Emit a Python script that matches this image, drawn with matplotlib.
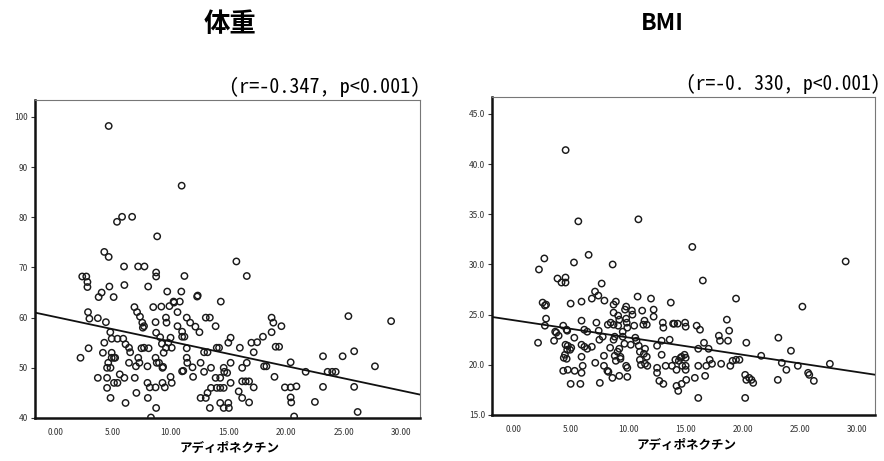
import matplotlib
matplotlib.use("Agg")
import matplotlib.pyplot as plt
import numpy as np

plt.rcParams['font.family'] = ['Noto Sans CJK JP', 'DejaVu Sans']

# ---------------- data ----------------
titles = ["体重", "BMI"]
x_label = "アディポネクチン"
annotations = ["(r=-0.347, p<0.001)", "(r=-0. 330, p<0.001)"]
x_ticks = [0, 5, 10, 15, 20, 25, 30]
y_ticks_weight = [40, 50, 60, 70, 80, 90, 100]
y_ticks_bmi = [15, 20, 25, 30, 35, 40, 45]
fit_weight = [60.15, -0.49]   # intercept, slope
fit_bmi = [24.44, -0.172]

weight_x = [4.64, 10.96, 5.36, 5.8, 6.67, 8.84, 4.26, 4.64, 15.7,
            5.97, 7.19, 7.74, 8.75, 8.75, 11.2, 16.6, 2.35, 2.7, 2.8, 2.8,
            4.7, 6.0, 8.06, 4.03, 3.77, 5.07, 9.71, 10.93, 12.3, 12.35, 14.35,
            10.26, 10.8, 6.87, 7.1, 7.35, 7.55, 7.7, 7.6, 8.5, 9.2, 9.9, 10.3,
            2.85, 2.97, 3.7, 4.4, 8.7, 9.6, 9.65, 10.6, 11.4, 11.7, 12.15,
            12.5, 13.05, 13.4, 13.9, 18.75, 18.9, 19.6, 25.4, 29.1, 10.6,
            11.0, 11.2, 4.78, 4.9, 5.4, 5.9, 4.26, 6.1, 6.4, 6.5, 4.14, 2.9,
            4.9, 5.1, 7.48, 8.1, 8.75, 9.1, 9.25, 9.6, 10.1, 9.8, 10.0, 11.0,
            11.4, 11.4, 11.45, 11.9, 11.95, 12.9, 13.2, 12.6, 13.5, 12.9, 14.0,
            14.2, 15.2, 15.0, 16.0, 17.0, 17.5, 18.0, 17.2, 16.6, 16.2, 18.75,
            19.1, 19.4, 20.4, 21.7, 23.2, 23.6, 24.0, 24.3, 24.9, 25.9, 27.7,
            9.4, 9.0, 9.3, 9.35, 8.0, 7.0, 6.4, 5.6, 5.1, 5.4, 3.7, 4.5, 6.0,
            6.9, 4.8, 6.1, 7.04, 8.03, 8.2, 8.7, 8.75, 8.3, 9.5, 10.1, 4.5,
            11.0, 11.1, 12.6, 13.05, 13.2, 13.5, 13.4, 14.0, 14.3, 14.6, 13.9,
            14.3, 14.6, 14.65, 14.9, 15.2, 14.3, 14.6, 15.0, 15.05, 15.2, 15.9,
            16.2, 16.2, 16.5, 16.8, 17.2, 16.8, 18.1, 18.3, 19.0, 19.9, 20.4,
            20.9, 20.4, 20.45, 20.7, 22.5, 23.2, 25.9, 26.2, 4.9, 5.2, 4.6, 4.5,
            4.8, 2.2, 7.2, 7.3, 7.7, 8.7, 8.8, 10.0, 9.3, 8.0]
weight_y = [98.2, 86.3, 79.1, 80.1, 80.1, 76.2, 73.1, 72.1, 71.2,
            70.2, 70.2, 70.2, 69.0, 68.2, 68.3, 68.3, 68.2, 68.2, 67.1, 66.1,
            66.2, 66.5, 66.2, 65.0, 64.1, 64.1, 65.2, 65.2, 64.2, 64.4, 63.2,
            63.2, 63.2, 62.1, 61.1, 60.2, 59.0, 58.3, 58.0, 62.1, 62.2, 62.3,
            63.0, 61.1, 59.8, 59.9, 59.1, 59.1, 60.0, 59.0, 61.1, 60.0, 59.0,
            58.2, 57.1, 60.0, 60.0, 58.3, 60.0, 59.0, 58.3, 60.3, 59.3, 58.3,
            57.2, 56.2, 57.1, 55.8, 55.8, 55.8, 55.0, 54.7, 54.0, 53.1, 53.0,
            53.9, 53.0, 52.0, 53.9, 53.9, 57.0, 56.1, 54.8, 54.0, 54.0, 55.0,
            56.0, 56.2, 53.9, 52.0, 51.0, 50.1, 48.2, 53.1, 53.1, 51.0, 50.0,
            49.2, 54.0, 54.0, 56.0, 55.0, 54.0, 55.0, 55.1, 56.2, 53.1, 51.0,
            50.0, 57.1, 54.2, 54.2, 51.1, 49.2, 52.3, 49.2, 49.2, 49.2, 52.3,
            53.3, 50.3, 53.0, 51.0, 50.0, 50.2, 50.3, 50.3, 51.0, 48.7, 47.0,
            47.0, 48.0, 48.0, 48.0, 48.0, 44.0, 43.0, 45.0, 44.0, 46.1, 46.1,
            42.0, 40.1, 46.1, 47.0, 46.0, 49.3, 49.4, 44.0, 44.0, 45.0, 46.0,
            42.0, 46.0, 46.0, 46.0, 48.0, 48.0, 50.0, 49.2, 49.0, 51.0, 43.0,
            42.0, 43.0, 42.0, 47.0, 45.3, 44.0, 47.3, 47.3, 47.3, 46.1, 43.1,
            50.3, 50.3, 48.2, 46.1, 46.1, 46.3, 44.1, 43.1, 40.3, 43.2, 46.2,
            46.2, 41.2, 52.0, 52.0, 51.0, 50.0, 50.0, 52.0, 52.0, 51.0, 54.0,
            52.0, 51.0, 48.2, 47.0, 47.0]

bmi_x = [4.51, 5.62, 10.87, 15.58, 2.65, 5.24, 6.52, 8.62, 28.98, 2.18,
         3.8, 4.15, 4.5, 4.5, 7.66, 16.5, 7.08, 7.37, 4.95, 5.9, 6.8, 7.9,
         2.5, 2.8, 2.7, 2.8, 2.7, 2.1, 3.6, 3.7, 3.9, 3.5, 4.3, 4.6, 4.65,
         4.5, 4.7, 4.65, 4.45, 4.35, 4.6, 4.9, 4.3, 4.7, 4.95, 5.3, 5.27, 5.0,
         5.9, 6.14, 6.4, 5.9, 6.15, 6.4, 5.9, 6.0, 5.9, 5.8, 6.8, 7.1, 7.2,
         7.4, 7.46, 7.75, 7.5, 7.86, 7.86, 8.16, 8.25, 8.4, 8.6, 8.2, 8.45,
         8.7, 8.7, 8.9, 8.7, 8.7, 8.8, 8.8, 8.9, 9.1, 9.2, 9.1, 9.5, 9.5, 9.65,
         9.2, 9.05, 9.3, 9.3, 9.7, 9.8, 9.8, 9.85, 9.9, 9.2, 9.9, 10.3, 10.35,
         9.8, 9.9, 10.2, 10.6, 10.7, 10.8, 10.5, 10.9, 11.0, 11.0, 11.1, 11.2,
         11.3, 11.4, 11.6, 11.45, 11.35, 11.6, 11.45, 11.65, 11.97, 12.2,
         12.2, 12.5, 12.5, 12.5, 12.7, 13.0, 13.05, 12.9, 12.9, 13.05, 13.25,
         13.7, 13.6, 13.8, 13.9, 14.0, 14.3, 14.2, 14.1, 14.4, 14.55, 14.7,
         14.65, 14.2, 14.35, 14.65, 14.95, 15.0, 14.9, 15.0, 15.0, 15.0, 15.05,
         15.8, 15.96, 16.25, 16.1, 16.1, 16.1, 16.6, 16.7, 16.8, 17.0, 17.1,
         17.3, 18.1, 17.9, 18.0, 18.6, 18.7, 18.8, 18.9, 19.1, 19.4, 19.7,
         19.4, 20.3, 20.2, 20.3, 20.55, 20.75, 20.9, 20.2, 21.6, 23.1, 23.05,
         23.4, 23.8, 24.2, 24.8, 25.2, 25.7, 25.8, 26.2, 27.6]
bmi_y = [41.4, 34.3, 34.5, 31.75, 30.6, 30.2, 30.96, 30.0, 30.3, 29.5,
         28.6, 28.2, 28.7, 28.2, 28.1, 28.4, 27.3, 26.9, 26.1, 26.3, 26.6,
         26.4, 26.2, 26.0, 25.9, 24.6, 23.9, 22.2, 23.3, 23.2, 22.9, 22.4,
         23.9, 23.5, 23.4, 22.0, 21.9, 21.5, 21.0, 20.7, 20.6, 21.5, 19.4,
         19.5, 18.1, 19.4, 22.7, 21.7, 24.4, 23.5, 23.3, 22.0, 21.8, 21.6,
         20.8, 19.9, 19.2, 18.1, 21.8, 20.2, 24.2, 23.4, 22.5, 22.8, 18.2,
         20.9, 19.9, 19.4, 19.3, 21.7, 18.7, 24.0, 24.2, 24.0, 26.0, 26.3,
         25.2, 22.5, 22.8, 20.9, 20.4, 24.9, 24.5, 23.9, 23.3, 22.8, 22.1,
         21.6, 21.3, 20.8, 20.6, 25.5, 25.8, 24.6, 24.2, 23.7, 18.9, 18.8,
         25.4, 25.0, 19.9, 19.7, 22.0, 22.7, 22.4, 26.8, 23.9, 21.9, 21.3,
         20.5, 20.0, 25.4, 24.0, 24.4, 24.0, 21.6, 21.1, 20.8, 20.1, 19.9,
         26.6, 25.5, 24.8, 21.9, 19.7, 19.2, 18.4, 24.2, 23.7, 22.4, 21.0,
         18.1, 19.9, 26.2, 22.5, 19.9, 24.1, 24.1, 24.1, 19.5, 20.5, 20.4,
         20.7, 19.9, 20.8, 17.9, 17.4, 18.1, 24.2, 23.8, 21.0, 20.7, 19.9,
         19.5, 18.5, 18.7, 23.9, 23.5, 21.6, 19.9, 16.7, 22.2, 18.9, 19.9,
         21.6, 20.5, 20.1, 20.1, 22.9, 22.4, 24.5, 22.4, 23.4, 19.9, 20.4,
         20.5, 20.5, 26.6, 22.2, 19.0, 18.5, 18.7, 18.5, 18.2, 16.7, 20.9,
         22.7, 18.5, 20.2, 19.5, 21.4, 19.9, 25.8, 19.2, 19.0, 18.4, 20.1]

# ---------------- figure ----------------
fig = plt.figure(figsize=(8.84, 4.61), dpi=100)
ax1 = fig.add_axes([0.0396, 0.0933, 0.4355, 0.690])
ax2 = fig.add_axes([0.5566, 0.0998, 0.4333, 0.690])

panels = [
    (ax1, weight_x, weight_y, fit_weight, y_ticks_weight, (40, 103.4), (-1.74, 31.6), "{:d}"),
    (ax2, bmi_x, bmi_y, fit_bmi, y_ticks_bmi, (15, 46.7), (-1.92, 31.55), "{:.1f}"),
]

for ax, xs, ys, fit, yt, ylim, xlim, fmt in panels:
    ax.scatter(xs, ys, s=21, facecolors='none', edgecolors='#1a1a1a',
               linewidths=1.05, zorder=3)
    xl = np.array(xlim)
    ax.plot(xl, fit[0] + fit[1] * xl, color='#111111', lw=1.3, zorder=4)
    ax.set_xlim(*xlim)
    ax.set_ylim(*ylim)
    ax.set_xticks(x_ticks)
    ax.set_xticklabels([f"{v:.2f}" for v in x_ticks])
    ax.set_yticks(yt)
    ax.set_yticklabels([fmt.format(v) for v in yt])
    ax.tick_params(axis='both', labelsize=6, colors='#333333', length=3,
                   width=0.8, direction='out', pad=2)
    ax.tick_params(axis='x', length=0, pad=7)
    for side in ('left', 'bottom'):
        ax.spines[side].set_linewidth(1.8)
        ax.spines[side].set_color('#111111')
    for side in ('top', 'right'):
        ax.spines[side].set_linewidth(0.8)
        ax.spines[side].set_color('#777777')

fig.text(230 / 884, 1 - 25 / 461, titles[0], ha='center', va='center',
         fontsize=19, fontweight='bold')
fig.text(662 / 884, 1 - 23 / 461, titles[1], ha='center', va='center',
         fontsize=16.5, fontweight='bold')
mono = ['Noto Sans Mono CJK JP', 'DejaVu Sans Mono']
fig.text(420 / 884, 1 - 87 / 461, annotations[0], ha='right', va='center',
         fontsize=14.5, family=mono)
fig.text(880 / 884, 1 - 84 / 461, annotations[1], ha='right', va='center',
         fontsize=14, family=mono)
fig.text(230 / 884, 1 - 448 / 461, x_label, ha='center', va='center',
         fontsize=9, fontweight='bold')
fig.text(687 / 884, 1 - 445 / 461, x_label, ha='center', va='center',
         fontsize=9, fontweight='bold')

fig.savefig("out.png", dpi=100)
